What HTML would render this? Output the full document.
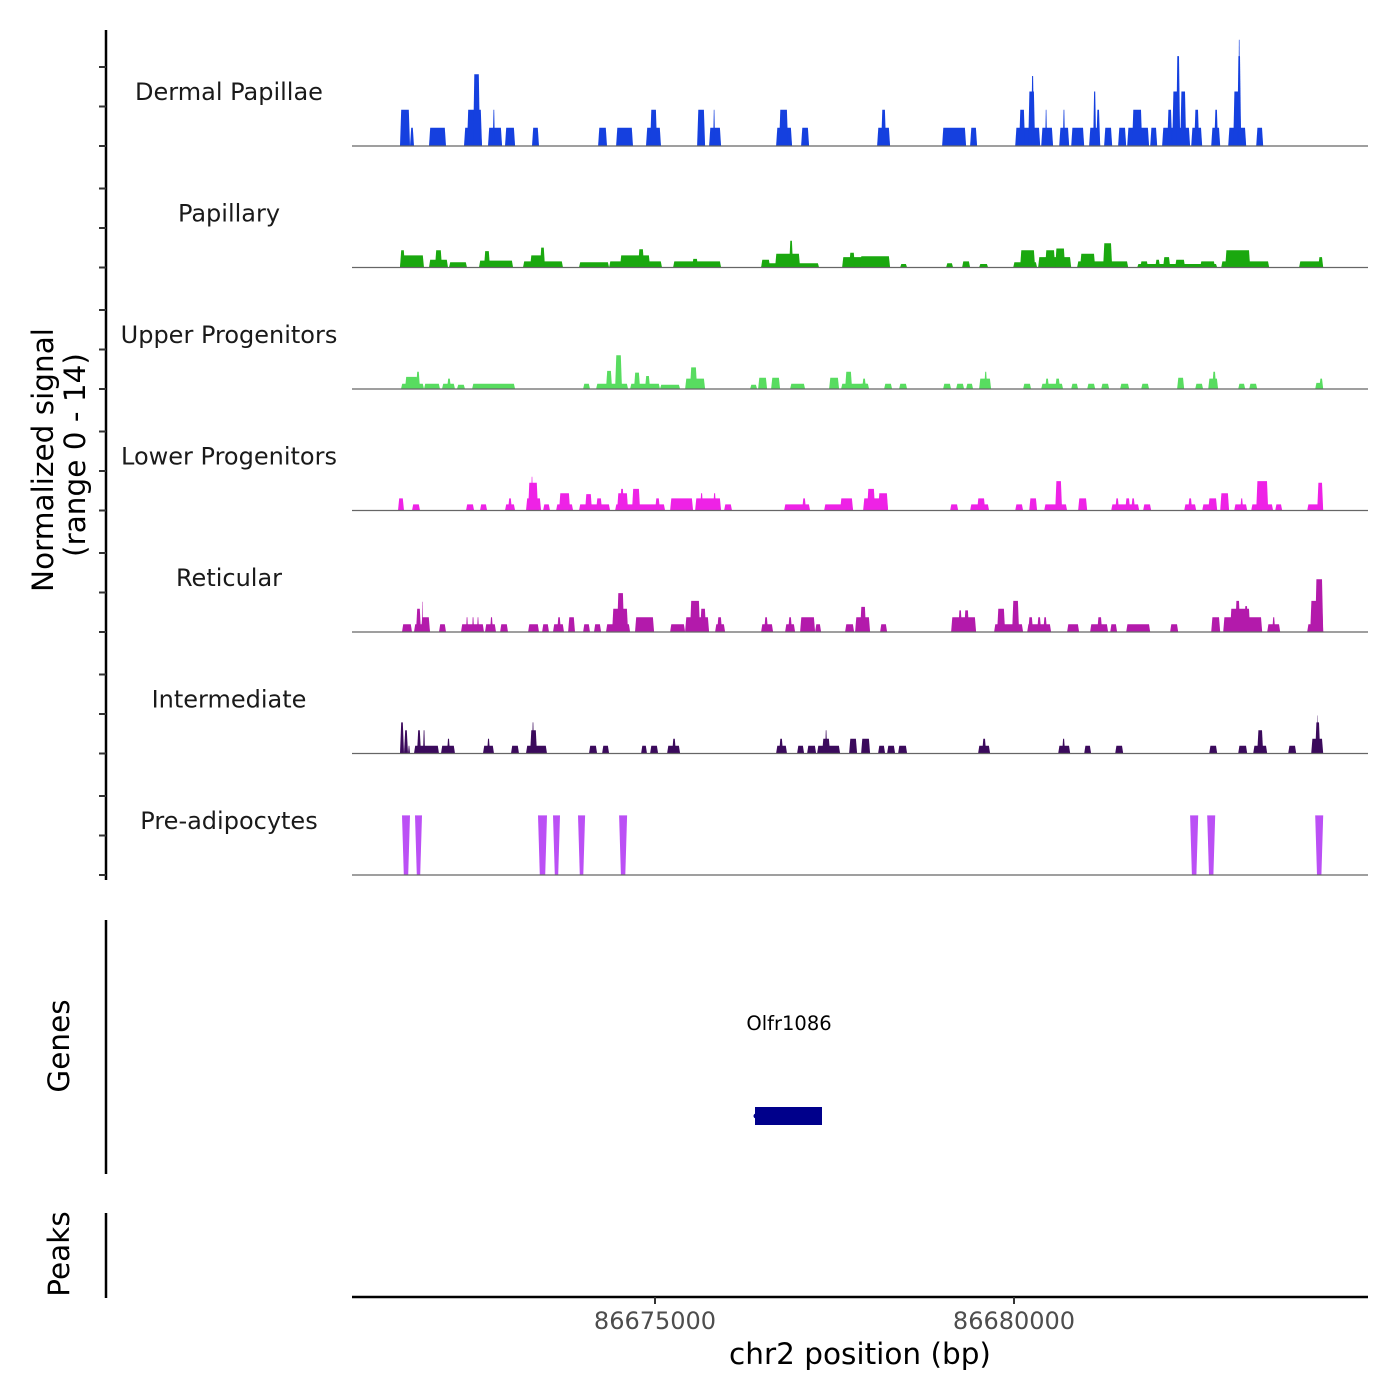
<!DOCTYPE html>
<html><head><meta charset="utf-8"><style>
html,body{margin:0;padding:0;background:#fff;}
svg{display:block;font-family:"DejaVu Sans","Liberation Sans",sans-serif;}
</style></head><body>
<svg id="chart" width="1400" height="1400" viewBox="0 0 1400 1400">
<g id="axes">
 <line x1="106" y1="30" x2="106" y2="880" stroke="#000" stroke-width="2.5"/>
 <line x1="106" y1="920" x2="106" y2="1174" stroke="#000" stroke-width="2.5"/>
 <line x1="106" y1="1213" x2="106" y2="1298" stroke="#000" stroke-width="2.5"/>
 <line x1="352" y1="1297" x2="1368" y2="1297" stroke="#000" stroke-width="2.5"/>
 <text x="53" y="460" transform="rotate(-90 53 460)" text-anchor="middle" font-size="29.5" fill="#000">Normalized signal</text>
 <text x="85" y="455" transform="rotate(-90 85 455)" text-anchor="middle" font-size="29.5" fill="#000">(range 0 - 14)</text>
 <text x="69" y="1046" transform="rotate(-90 69 1046)" text-anchor="middle" font-size="29.5" fill="#000">Genes</text>
 <text x="69" y="1254" transform="rotate(-90 69 1254)" text-anchor="middle" font-size="29.5" fill="#000">Peaks</text>
 <text x="860" y="1364" text-anchor="middle" font-size="29.5" fill="#000">chr2 position (bp)</text>
</g>
<g id="tracks"></g>
<g id="genes">
 <text x="789" y="1030" text-anchor="middle" font-size="19.5" fill="#000">Olfr1086</text>
 <rect x="755" y="1107" width="67" height="18" fill="#00008b"/>
 <circle cx="756" cy="1116" r="2.5" fill="#00008b"/>
</g>
</svg>
<script>
const regionStart = 86670780;
const regionEnd = 86684930;
const xTicks = [86675000, 86680000];
const xTickLabels = ["86675000", "86680000"];
const trackNames = ["Dermal Papillae","Papillary","Upper Progenitors","Lower Progenitors","Reticular","Intermediate","Pre-adipocytes"];
const trackColors = ["#1540df","#1aa80f","#58dc60","#ee22e6","#b31aab","#3b0a5c","#bb50f5"];
const yMax = 14;

// segments per track: [start offset bp, end offset bp, value]
const dermalSegs = [[669,808,4.2],[808,864,2.1],[1073,1309,2.1],[1560,1811,2.1],[1602,1811,4.2],[1686,1783,8.3],[1894,2090,2.1],[1960,1990,4.2],[2131,2271,2.1],[2507,2605,2.1],[3427,3552,2.1],[3678,3914,2.1],[4095,4304,2.1],[4151,4249,4.2],[4806,4917,4.2],[4973,5140,2.1],[5029,5057,4.2],[5906,6129,2.1],[5948,6073,4.2],[6255,6366,2.1],[7313,7494,2.1],[7369,7439,4.2],[8219,8553,2.1],[8609,8706,2.1],[9236,9584,2.1],[9291,9375,4.2],[9417,9514,6.3],[9458,9500,8.1],[9598,9765,2.1],[9653,9681,4.2],[9849,9988,2.1],[9900,9930,4.2],[10016,10197,2.1],[10266,10420,2.1],[10322,10364,6.3],[10364,10420,4.2],[10475,10587,2.1],[10670,10782,2.1],[10796,11102,2.1],[10865,11005,4.2],[11116,11214,2.1],[11283,11673,2.1],[11353,11423,4.2],[11423,11534,6.3],[11478,11534,10.4],[11534,11618,6.3],[11687,11841,2.1],[11729,11799,4.2],[11966,12091,2.1],[12008,12063,4.2],[12203,12453,2.1],[12272,12384,6.3],[12328,12384,10.4],[12342,12370,12.3],[12593,12690,2.1]];
const papillarySegs = [[669,1003,1.4],[669,738,2.0],[1073,1337,0.9],[1156,1254,2.0],[1351,1602,0.6],[1769,2243,0.8],[1839,1922,1.9],[2382,2939,0.7],[2480,2688,1.4],[2619,2688,2.3],[3162,3580,0.6],[3580,4318,0.7],[3733,4151,1.4],[3984,4068,2.1],[4472,5140,0.7],[4736,4820,1.0],[5697,6505,0.5],[5697,5823,0.9],[5892,6241,1.6],[6087,6143,3.1],[6826,7244,1.2],[6923,7006,1.7],[7076,7494,1.3],[7634,7731,0.4],[8274,8372,0.5],[8497,8609,0.7],[8734,8859,0.4],[9208,9542,0.6],[9305,9514,2.0],[9556,10016,1.2],[9653,9793,2.0],[9793,9932,2.2],[10099,10810,0.7],[10141,10350,1.6],[10461,10587,2.8],[10935,12050,0.4],[10977,11088,0.7],[11186,11255,0.9],[11297,11395,1.2],[11464,11603,0.9],[11812,12021,0.7],[12105,12774,0.7],[12161,12509,2.0],[13191,13526,0.7],[13456,13526,1.2]];
const upperSegs = [[683,1003,0.6],[738,919,1.4],[892,947,2.0],[1003,1226,0.6],[1254,1435,0.6],[1323,1379,1.2],[1463,1574,0.5],[1672,2271,0.6],[3218,3315,0.6],[3399,3845,0.6],[3538,3622,2.1],[3664,3761,3.9],[3873,4290,0.6],[3928,4012,1.9],[4081,4151,1.5],[4290,4569,0.5],[4639,4917,1.2],[4708,4806,2.5],[5544,5642,0.5],[5656,5781,1.3],[5837,5962,1.3],[6101,6310,0.6],[6645,6784,1.3],[6812,7202,0.6],[6868,6965,2.0],[7104,7160,1.2],[7076,7188,0.6],[7411,7522,0.6],[7620,7731,0.6],[8233,8344,0.6],[8414,8525,0.6],[8553,8650,0.6],[8734,8901,1.2],[8804,8846,2.0],[9347,9458,0.6],[9598,9904,0.6],[9653,9709,1.2],[9793,9862,1.2],[10016,10113,0.6],[10239,10350,0.6],[10434,10545,0.6],[10698,10824,0.6],[10991,11102,0.6],[11492,11590,1.3],[11743,11854,0.6],[11924,12063,1.2],[11980,12036,2.0],[12342,12440,0.6],[12495,12607,0.6],[13414,13526,0.7],[13470,13526,1.2]];
const lowerSegs = [[641,724,1.4],[836,947,0.7],[1588,1700,0.7],[1783,1881,0.7],[2131,2271,0.7],[2173,2229,1.4],[2424,2633,1.4],[2452,2591,3.2],[2493,2521,3.9],[2661,2758,0.7],[2842,3079,0.7],[2884,3037,2.0],[3162,3594,0.7],[3246,3343,1.9],[3399,3483,1.4],[3664,4360,0.7],[3692,3845,2.0],[3733,3789,2.5],[3900,4012,2.5],[4221,4290,1.4],[4430,4750,1.4],[4778,5140,1.4],[4848,4889,2.0],[5029,5071,2.0],[5182,5293,0.7],[6018,6380,0.7],[6269,6324,1.4],[6575,6979,0.7],[6798,6979,1.4],[7118,7466,1.4],[7174,7285,2.5],[7327,7466,2.0],[8330,8442,0.7],[8609,8873,0.7],[8706,8818,1.4],[9236,9347,0.7],[9431,9542,1.4],[9640,9960,0.7],[9793,9890,3.4],[10113,10239,1.4],[10573,10963,0.7],[10629,10684,1.4],[10768,10838,1.4],[10852,10907,1.4],[11018,11130,0.7],[11590,11757,0.7],[11645,11701,1.4],[11841,12050,0.7],[11924,12050,1.4],[12091,12216,2.0],[12286,12467,0.7],[12370,12412,1.4],[12523,12829,0.7],[12593,12760,3.4],[12857,12955,0.7],[13303,13526,0.7],[13442,13526,3.2]];
const reticularSegs = [[697,836,0.9],[864,1087,0.9],[892,961,2.7],[961,1087,1.7],[975,989,3.5],[1212,1309,0.9],[1518,1839,0.9],[1588,1616,1.7],[1672,1700,1.7],[1741,1769,1.7],[1853,2006,0.9],[1922,1964,1.7],[2062,2173,0.9],[2452,2605,0.9],[2647,2744,0.9],[2800,2953,0.9],[2856,2911,1.7],[3009,3106,1.7],[3218,3315,0.9],[3371,3469,0.9],[3538,3873,0.9],[3622,3845,2.7],[3692,3789,4.5],[3942,4207,1.7],[4430,4639,0.9],[4639,4973,1.7],[4708,4848,3.6],[4848,4931,2.7],[5057,5196,0.9],[5085,5154,1.7],[5697,5865,0.9],[5739,5795,1.7],[6032,6171,0.9],[6073,6129,1.7],[6241,6450,1.7],[6450,6533,0.9],[6868,6993,0.9],[7007,7216,1.7],[7076,7160,2.9],[7355,7453,0.9],[8344,8692,1.7],[8442,8497,2.5],[8525,8595,2.5],[8943,9347,0.9],[8985,9096,2.7],[9194,9291,3.6],[9403,9737,0.9],[9417,9486,1.7],[9542,9598,1.7],[9626,9681,1.7],[9960,10127,0.9],[10280,10531,0.9],[10378,10448,1.7],[10559,10656,0.9],[10782,11116,0.9],[11394,11506,0.9],[11966,12091,1.7],[12133,12676,1.7],[12230,12509,2.7],[12300,12370,3.6],[12425,12481,3.0],[12746,12927,0.9],[12816,12857,1.7],[13303,13526,0.9],[13345,13526,3.6],[13414,13526,6.1]];
const intermediateSegs = [[669,724,3.6],[724,780,2.7],[780,808,0.9],[864,1212,0.9],[905,961,2.7],[989,1017,2.7],[1240,1435,0.9],[1323,1365,1.7],[1825,1978,0.9],[1881,1922,1.7],[2215,2326,0.9],[2424,2716,0.9],[2480,2577,2.7],[2507,2535,3.6],[3301,3413,0.9],[3483,3580,0.9],[4026,4109,0.9],[4151,4263,0.9],[4388,4569,0.9],[4458,4513,1.7],[5906,6059,0.9],[5948,6004,1.7],[6199,6296,0.9],[6338,6463,0.9],[6477,6798,0.9],[6547,6658,1.7],[6589,6617,2.7],[6923,7035,1.7],[7090,7216,1.7],[7327,7425,0.9],[7453,7564,0.9],[7606,7731,0.9],[8720,8887,0.9],[8776,8832,1.7],[9835,10002,0.9],[9890,9932,1.7],[10197,10294,0.9],[10629,10740,0.9],[11938,12050,0.9],[12342,12467,0.9],[12551,12746,0.9],[12607,12690,2.7],[13039,13150,0.9],[13359,13526,1.7],[13414,13484,3.6],[13442,13456,4.4]];
const preadipoSegs = [[697,808,6.9],[878,975,6.9],[2591,2716,6.9],[2800,2897,6.9],[3148,3246,6.9],[3720,3831,6.9],[11673,11785,6.9],[11910,12022,6.9],[13414,13526,6.9]];
const allSegs = [dermalSegs,papillarySegs,upperSegs,lowerSegs,reticularSegs,intermediateSegs,preadipoSegs];

const NS = "http://www.w3.org/2000/svg";
const X0 = 352, X1 = 1368;
function xScale(bp){ return X0 + (bp - regionStart) / (regionEnd - regionStart) * (X1 - X0); }
const trackBase = i => 146 + i * 121.5;
const trackH = 121;
function yScale(v, i){ return trackBase(i) - v / yMax * trackH; }

const tracksG = document.getElementById('tracks');
const axesG = document.getElementById('axes');
for (let i = 0; i < trackNames.length; i++) {
  const g = document.createElementNS(NS, 'g');
  
  
  tracksG.appendChild(g);
  const b = trackBase(i);
  const segs = allSegs[i];
  for (const s of segs) {
    const xa = xScale(regionStart + s[0]), xb = xScale(regionStart + s[1]);
    const yt = yScale(s[2], i);
    const ins = Math.min(1.2, (xb - xa) / 3);
    const p = document.createElementNS(NS, 'polygon');
    let pts;
    if (i === 6) pts = [[xa,yt],[xb,yt],[xb-ins*1.5,b],[xa+ins*1.5,b]];
    else pts = [[xa,b],[xa+ins,yt],[xb-ins,yt],[xb,b]];
    p.setAttribute('points', pts.map(q => q[0].toFixed(1) + ',' + q[1].toFixed(1)).join(' '));
    p.setAttribute('fill', trackColors[i]);
    
    
    g.appendChild(p);
  }
  const bl = document.createElementNS(NS, 'line');
  bl.setAttribute('x1', X0); bl.setAttribute('x2', X1);
  bl.setAttribute('y1', b); bl.setAttribute('y2', b);
  bl.setAttribute('stroke', '#666'); bl.setAttribute('stroke-width', '1.2');
  
  
  g.appendChild(bl);
  const lab = document.createElementNS(NS, 'text');
  lab.setAttribute('x', 229); lab.setAttribute('y', b - 46);
  lab.setAttribute('text-anchor', 'middle'); lab.setAttribute('font-size', '24');
  lab.setAttribute('fill', '#1a1a1a');
  lab.textContent = trackNames[i];
  
  
  g.appendChild(lab);
  for (const off of [0, 39.5, 79]) {
    const t = document.createElementNS(NS, 'line');
    t.setAttribute('x1', 99); t.setAttribute('x2', 106);
    t.setAttribute('y1', b - off); t.setAttribute('y2', b - off);
    t.setAttribute('stroke', '#333'); t.setAttribute('stroke-width', '2');
    
    
    axesG.appendChild(t);
  }
}
for (let k = 0; k < xTicks.length; k++) {
  const x = xScale(xTicks[k]);
  const t = document.createElementNS(NS, 'line');
  t.setAttribute('x1', x); t.setAttribute('x2', x);
  t.setAttribute('y1', 1297); t.setAttribute('y2', 1304);
  t.setAttribute('stroke', '#333'); t.setAttribute('stroke-width', '2');
  
  
  axesG.appendChild(t);
  const l = document.createElementNS(NS, 'text');
  l.setAttribute('x', x); l.setAttribute('y', 1329);
  l.setAttribute('text-anchor', 'middle'); l.setAttribute('font-size', '24');
  l.setAttribute('fill', '#4d4d4d');
  l.textContent = xTickLabels[k];
  
  
  axesG.appendChild(l);
}
</script>
</body></html>
